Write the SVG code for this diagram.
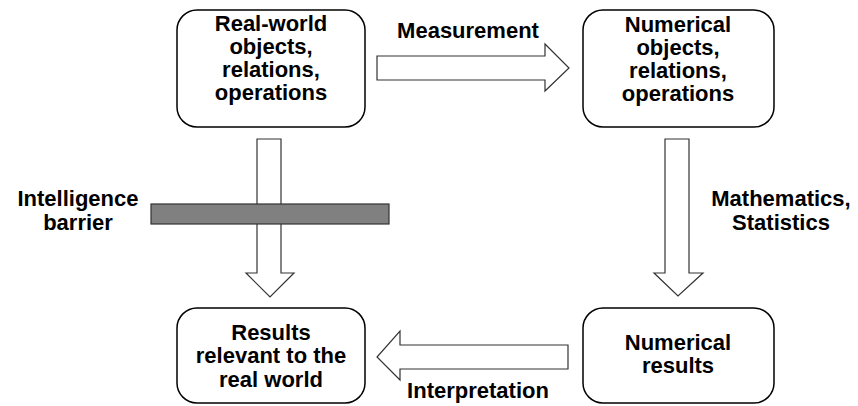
<svg xmlns="http://www.w3.org/2000/svg" width="858" height="406" viewBox="0 0 858 406">
<style>
.box{fill:#fff;stroke:#000;stroke-width:1.5}
.arr{fill:#fff;stroke:#333;stroke-width:1.2}
.bar{fill:#808080;stroke:#333;stroke-width:1.2}
text{font-family:"Liberation Sans",Arial,sans-serif;font-weight:bold;font-size:22px;fill:#000;text-anchor:middle}
</style>
<rect width="858" height="406" fill="#fff"/>
<g id="connectors">
<polygon class="arr" points="377,56 545,56 545,44 569,68 545,91 545,80 377,80"/>
<polygon class="arr" points="568,345 400,345 400,331 377,357 400,380 400,369 568,369"/>
<polygon class="arr" points="257,139 281,139 281,273 294,273 270,297 246,273 257,273"/>
<polygon class="arr" points="665,139 689,139 689,273 703,273 678,296 654,273 665,273"/>
</g>
<g id="barrier">
<rect class="bar" x="151" y="204" width="238" height="20"/>
</g>
<g id="label-measurement"><text x="468" y="38">Measurement</text></g>
<g id="label-interpretation"><text x="478" y="398">Interpretation</text></g>
<g id="label-math"><text x="781" y="206">Mathematics,</text><text x="781" y="230">Statistics</text></g>
<g id="label-barrier"><text x="78" y="206">Intelligence</text><text x="78" y="230">barrier</text></g>
<g id="node-realworld">
<rect class="box" x="177" y="10" width="188" height="117" rx="20"/>
<text x="271" y="31">Real-world</text><text x="271" y="54">objects,</text><text x="271" y="77">relations,</text><text x="271" y="100">operations</text>
</g>
<g id="node-numerical">
<rect class="box" x="583" y="10" width="191" height="117" rx="20"/>
<text x="678" y="32">Numerical</text><text x="678" y="55">objects,</text><text x="678" y="78">relations,</text><text x="678" y="101">operations</text>
</g>
<g id="node-results">
<rect class="box" x="177" y="308" width="188" height="95" rx="20"/>
<text x="271" y="340">Results</text><text x="271" y="363">relevant to the</text><text x="271" y="387">real world</text>
</g>
<g id="node-numresults">
<rect class="box" x="583" y="308" width="191" height="95" rx="20"/>
<text x="678" y="350">Numerical</text><text x="678" y="373">results</text>
</g>
</svg>
